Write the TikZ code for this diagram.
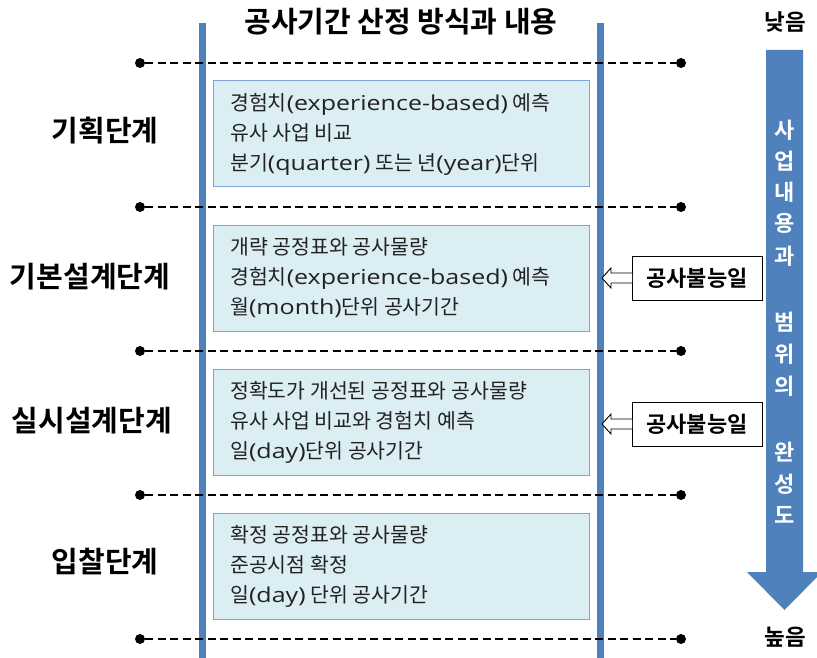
\documentclass[tikz,border=0pt]{standalone}
\usepackage{fontspec}
\setmainfont{Noto Sans CJK KR}
\newfontfamily\krb{Noto Sans CJK KR Bold}
\newfontfamily\latfont[FakeStretch=1.22]{Open Sans}
\newcommand{\lat}[1]{{\latfont #1}}
\usetikzlibrary{calc}
\definecolor{lineblue}{HTML}{4F81BD}
\definecolor{boxfill}{HTML}{DBEEF4}
\definecolor{boxedge}{HTML}{7FA3D6}
\definecolor{txt}{HTML}{222222}
\tikzset{
  x=1pt, y=-1pt,
  vline/.style={draw=lineblue, line width=7pt},
  dline/.style={draw=black, line width=2.4pt, dash pattern=on 8pt off 4.5pt},
  enddot/.style={circle, fill=black, inner sep=0pt, minimum size=10pt},
  infobox/.style={draw=boxedge, fill=boxfill, line width=1pt},
  infotext/.style={anchor=west, align=left, inner sep=0pt, text=txt,
    font=\fontsize{20.5}{30}\selectfont},
  stagelabel/.style={inner sep=0pt, font=\krb\fontsize{29}{32}\selectfont},
  vtext/.style={inner sep=0pt, text=white, font=\krb\fontsize{22}{24}\selectfont},
  calloutbox/.style={draw=black, fill=white, line width=0.9pt},
  callouttext/.style={inner sep=0pt, font=\krb\fontsize{22}{24}\selectfont},
  endlabel/.style={inner sep=0pt, font=\krb\fontsize{22.5}{24}\selectfont},
}
\begin{document}
\begin{tikzpicture}
\useasboundingbox (0,0) rectangle (817,658);
% title
\node[inner sep=0pt, font=\krb\fontsize{29}{32}\selectfont] (title) at (401,22) {공사기간 산정 방식과 내용};
% vertical blue lines
\coordinate (lt) at (202,23); \coordinate (lb) at (202,658);
\coordinate (rt) at (600,23); \coordinate (rb) at (600,658);
\draw[vline] (lt) -- (lb);
\draw[vline] (rt) -- (rb);
% dashed separators
\foreach \k in {0,...,4}{
  \node[enddot] (dl\k) at (140,{63+144*\k}) {};
  \node[enddot] (dr\k) at (681,{63+144*\k}) {};
  \draw[dline] (dl\k) -- (dr\k);
}
% boxes
\foreach \k in {0,...,3}{
  \draw[infobox] (213,{81+144*\k}) rectangle (589,{187+144*\k});
}
\node[infotext] (t1) at (230,134) {경험치\lat{(experience-based)} 예측\\유사 사업 비교\\분기\lat{(quarter)} 또는 년\lat{(year)}단위};
\node[infotext] (t2) at (230,278) {개략 공정표와 공사물량\\경험치\lat{(experience-based)} 예측\\월\lat{(month)}단위 공사기간};
\node[infotext] (t3) at (230,422) {정확도가 개선된 공정표와 공사물량\\유사 사업 비교와 경험치 예측\\일\lat{(day)}단위 공사기간};
\node[infotext] (t4) at (230,566) {확정 공정표와 공사물량\\준공시점 확정\\일\lat{(day)} 단위 공사기간};
% stage labels
\node[stagelabel] (s1) at (105,131) {기획단계};
\node[stagelabel] (s2) at (90,277) {기본설계단계};
\node[stagelabel] (s3) at (92,421) {실시설계단계};
\node[stagelabel] (s4) at (105,562) {입찰단계};
% callouts
\foreach \c/\y in {1/278, 2/424}{
  \draw[calloutbox] (632,{\y-22}) rectangle (762,{\y+22});
  \draw[fill=white, line width=0.9pt] (632,{\y-5}) -- (611,{\y-5}) -- (611,{\y-10}) -- (602,\y)
     -- (611,{\y+10}) -- (611,{\y+5}) -- (632,{\y+5});
  \node[callouttext] (c\c) at (697,\y) {공사불능일};
}
% big right arrow
\fill[lineblue] (766,50) -- (803,50) -- (803,572) -- (822,572) -- (784.5,610) -- (747,572) -- (766,572) -- cycle;
\foreach \ch/\y in {사/130, 업/161, 내/192, 용/223, 과/256, 범/322, 위/354, 의/386, 완/452, 성/484, 도/515}{
  \node[vtext] at (784.5,\y) {\ch};
}
\node[endlabel] (low) at (785,22) {낮음};
\node[endlabel] (high) at (785,637) {높음};
\end{tikzpicture}
\end{document}
